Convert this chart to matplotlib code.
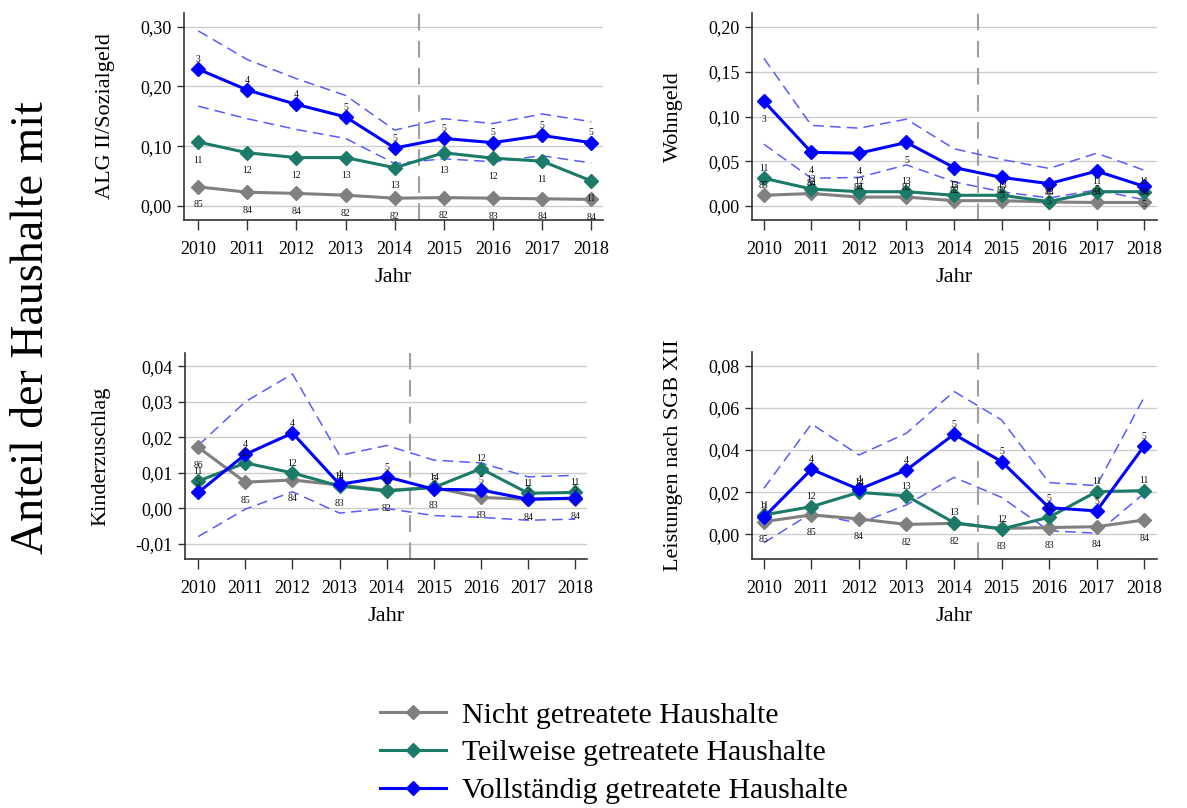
import matplotlib
matplotlib.use("Agg")
import matplotlib.pyplot as plt
from matplotlib.lines import Line2D

plt.rcParams["font.family"] = ["Liberation Serif", "DejaVu Serif"]

years = [2010, 2011, 2012, 2013, 2014, 2015, 2016, 2017, 2018]

# ALG II / Sozialgeld
alg_nicht = [0.032, 0.023, 0.021, 0.018, 0.013, 0.014, 0.013, 0.012, 0.011]
alg_teil = [0.107, 0.089, 0.081, 0.081, 0.064, 0.089, 0.080, 0.075, 0.042]
alg_voll = [0.229, 0.194, 0.170, 0.149, 0.097, 0.113, 0.106, 0.118, 0.106]
alg_voll_hi = [0.293, 0.245, 0.213, 0.185, 0.127, 0.146, 0.138, 0.154, 0.141]
alg_voll_lo = [0.167, 0.146, 0.128, 0.113, 0.071, 0.079, 0.074, 0.084, 0.072]

# Wohngeld
wg_nicht = [0.012, 0.014, 0.010, 0.010, 0.006, 0.006, 0.0045, 0.004, 0.004]
wg_teil = [0.031, 0.019, 0.016, 0.016, 0.012, 0.012, 0.005, 0.016, 0.016]
wg_voll = [0.117, 0.060, 0.059, 0.071, 0.043, 0.032, 0.025, 0.039, 0.022]
wg_voll_hi = [0.165, 0.090, 0.087, 0.097, 0.064, 0.052, 0.042, 0.059, 0.040]
wg_voll_lo = [0.069, 0.031, 0.032, 0.046, 0.027, 0.016, 0.009, 0.018, 0.007]

# Kinderzuschlag
kz_nicht = [0.0172, 0.0074, 0.0080, 0.0066, 0.0051, 0.0059, 0.0031, 0.0026, 0.0028]
kz_teil = [0.0077, 0.0128, 0.0100, 0.0063, 0.0049, 0.0059, 0.0112, 0.0043, 0.0045]
kz_voll = [0.0045, 0.0152, 0.0212, 0.0068, 0.0089, 0.0054, 0.0052, 0.0026, 0.0029]
kz_voll_hi = [0.0177, 0.0300, 0.0378, 0.0149, 0.0177, 0.0136, 0.0128, 0.0089, 0.0093]
kz_voll_lo = [-0.0079, -0.0002, 0.0047, -0.0013, 0.0000, -0.0020, -0.0025, -0.0033, -0.0030]

# Leistungen nach SGB XII
sgb_nicht = [0.0060, 0.0092, 0.0073, 0.0047, 0.0052, 0.0028, 0.0032, 0.0036, 0.0068]
sgb_teil = [0.0092, 0.0131, 0.0199, 0.0182, 0.0055, 0.0025, 0.0081, 0.0202, 0.0207]
sgb_voll = [0.0081, 0.0308, 0.0213, 0.0305, 0.0474, 0.0345, 0.0126, 0.0111, 0.0419]
sgb_voll_hi = [0.0218, 0.0523, 0.0376, 0.0479, 0.0677, 0.0542, 0.0245, 0.0231, 0.0650]
sgb_voll_lo = [-0.0040, 0.0100, 0.0052, 0.0139, 0.0270, 0.0175, 0.0017, 0.0005, 0.0194]

# group sizes per year
n_nicht = [85, 84, 84, 82, 82, 82, 83, 84, 84]
n_teil = [11, 12, 12, 13, 13, 13, 12, 11, 11]
n_voll = [3, 4, 4, 5, 5, 5, 5, 5, 5]
kz_n_nicht = [86, 85, 84, 83, 82, 83, 83, 84, 84]
kz_n_teil = [11, 12, 12, 14, 13, 14, 12, 11, 11]
kz_n_voll = [5, 4, 4, 4, 5, 5, 5, 5, 5]
sgb_n_nicht = [85, 85, 84, 82, 82, 83, 83, 84, 84]
sgb_n_teil = [11, 12, 14, 13, 13, 12, 12, 11, 11]
sgb_n_voll = [3, 4, 4, 4, 5, 5, 5, 5, 5]

labels = ["Nicht getreatete Haushalte", "Teilweise getreatete Haushalte",
          "Vollständig getreatete Haushalte"]
colors = ["#808080", "#1b7a68", "#0000ff"]
ci_color = "#5a5aff"
W, H = 1187, 808

panels = [
    dict(box=(184, 13, 603, 220), ylim=(-0.0235, 0.323), ticks=[0.0, 0.1, 0.2, 0.3],
         ylabel="ALG II/Sozialgeld", xlim=(2009.71, 2018.24),
         series=(alg_nicht, alg_teil, alg_voll), ci=(alg_voll_lo, alg_voll_hi),
         counts=(n_nicht, n_teil, n_voll), side=("below", "below", "above")),
    dict(box=(752, 13, 1157, 220), ylim=(-0.0156, 0.2156), ticks=[0.0, 0.05, 0.1, 0.15, 0.2],
         ylabel="Wohngeld", xlim=(2009.75, 2018.27),
         series=(wg_nicht, wg_teil, wg_voll), ci=(wg_voll_lo, wg_voll_hi),
         counts=(n_nicht, n_teil, n_voll), side=("above", "above", "below")),
    dict(box=(185, 353, 587, 559), ylim=(-0.0142, 0.0437), ticks=[-0.01, 0.0, 0.01, 0.02, 0.03, 0.04],
         ylabel="Kinderzuschlag", xlim=(2009.72, 2018.25),
         series=(kz_nicht, kz_teil, kz_voll), ci=(kz_voll_lo, kz_voll_hi),
         counts=(kz_n_nicht, kz_n_teil, kz_n_voll), side=("below", "above", "above")),
    dict(box=(752, 352, 1157, 559), ylim=(-0.0117, 0.0864), ticks=[0.0, 0.02, 0.04, 0.06, 0.08],
         ylabel="Leistungen nach SGB XII", xlim=(2009.75, 2018.27),
         series=(sgb_nicht, sgb_teil, sgb_voll), ci=(sgb_voll_lo, sgb_voll_hi),
         counts=(sgb_n_nicht, sgb_n_teil, sgb_n_voll), side=("below", "above", "above")),
]


def tick_text(t, two_digits):
    if abs(t) < 1e-9:
        return "0,00"
    s = f"{t:.2f}" if two_digits else f"{t:.2f}".rstrip("0")
    return s.replace(".", ",")


fig = plt.figure(figsize=(W / 100, H / 100), dpi=100)

for i, p in enumerate(panels):
    x0, y0, x1, y1 = p["box"]
    ax = fig.add_axes([x0 / W, 1 - y1 / H, (x1 - x0) / W, (y1 - y0) / H])
    ax.set_xlim(*p["xlim"])
    ax.set_ylim(*p["ylim"])

    ax.axvline(2014.5, color="#a0a0a0", lw=1.5, dashes=(8, 5), zorder=1)
    for lo_hi in p["ci"]:
        ax.plot(years, lo_hi, color=ci_color, lw=1.1, dashes=(7, 4), zorder=2)

    for vals, n, c, side in zip(p["series"], p["counts"], colors, p["side"]):
        ax.plot(years, vals, color=c, lw=2.2, marker="D", markersize=7.5,
                markeredgecolor=c, zorder=3)
        dy = 7 if side == "above" else -13
        for xv, yv, k in zip(years, vals, n):
            ax.annotate(str(k), (xv, yv), xytext=(0, dy), textcoords="offset points",
                        ha="center", va="center", fontsize=7, color="#111111", zorder=4)

    ax.set_yticks(p["ticks"])
    ax.set_yticklabels([tick_text(t, i < 2) for t in p["ticks"]])
    ax.set_xticks(years)
    ax.set_xticklabels([str(y) for y in years])
    ax.grid(axis="y", color="#cccccc", lw=1.0, zorder=0)
    ax.set_axisbelow(True)
    for s in ("top", "right"):
        ax.spines[s].set_visible(False)
    for s in ("left", "bottom"):
        ax.spines[s].set_color("#333333")
        ax.spines[s].set_linewidth(1.2)
    ax.tick_params(axis="x", length=7, width=1.0, color="#333333", pad=8, labelsize=13)
    ax.tick_params(axis="y", length=5, width=1.0, color="#333333", pad=4, labelsize=13)
    ax.set_xlabel("Jahr", fontsize=16, labelpad=7)
    ax.set_ylabel(p["ylabel"], fontsize=16, labelpad=18)

fig.text(32 / W, 1 - 328 / H, "Anteil der Haushalte mit", rotation=90,
         ha="center", va="center", fontsize=33)

handles = [Line2D([], [], color=c, lw=2.2, marker="D", markersize=7.5) for c in colors]
fig.legend(handles, labels, loc="upper left", bbox_to_anchor=(368 / W, 1 - 690 / H),
           frameon=False, fontsize=21.5, handlelength=2.2, labelspacing=0.36,
           handletextpad=0.55, borderaxespad=0)

fig.savefig("out.png", dpi=100)
